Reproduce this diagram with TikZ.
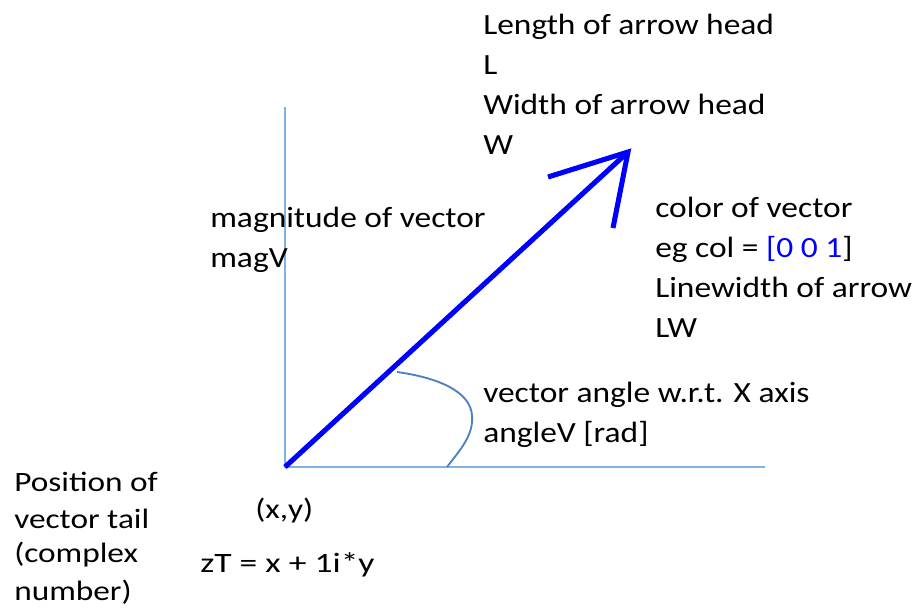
\documentclass[tikz,border=0pt]{standalone}
\usepackage{fontspec}
\usepackage{graphicx}
\setmainfont{Carlito}
\newcommand{\wideA}[1]{\scalebox{1.14}[1]{#1}}
\newcommand{\wideB}[1]{\scalebox{1.19}[1]{#1}}
\begin{document}
\begin{tikzpicture}[x=0.75pt,y=-0.75pt,
  txt/.style={anchor=base west,inner sep=0pt,font=\fontsize{22}{26}\selectfont},
  txts/.style={anchor=base west,inner sep=0pt,font=\fontsize{21}{25}\selectfont},
  axis/.style={draw={rgb,255:red,130;green,178;blue,225},line width=1.2pt},
  vec/.style={draw={rgb,255:red,0;green,0;blue,255},line width=3.8pt},
  ang/.style={draw={rgb,255:red,79;green,129;blue,189},line width=1.4pt}]
\useasboundingbox (0,0) rectangle (915,615);
% axes
\coordinate (O) at (285,467);
\coordinate (ytop) at (285,107);
\coordinate (xend) at (765,467);
\draw[axis] (ytop) -- (O) -- (xend);
% vector
\coordinate (tip) at (628,152);
\coordinate (h1) at (548,177);
\coordinate (h2) at (613,228);
\draw[vec] (O) -- (tip);
\draw[vec,miter limit=10] (h1) -- (tip) -- (h2);
% angle arc
\coordinate (a0) at (397,372);
\coordinate (a1) at (472,415);
\coordinate (a2) at (447,467);
\draw[ang] (a0) .. controls (440,378) and (470,392) .. (a1) .. controls (474,435) and (460,450) .. (a2);
% texts
\node[txt] (t1) at (483,34) {\wideA{Length of arrow head}};
\node[txt] (t2) at (483,74) {\wideA{L}};
\node[txt] (t3) at (483,114) {\wideA{Width of arrow head}};
\node[txt] (t4) at (483,154) {\wideA{W}};
\node[txt] (m1) at (210,227) {\wideA{magnitude of vector}};
\node[txt] (m2) at (210,267) {\wideA{magV}};
\node[txt] (c1) at (655,217) {\wideA{color of vector}};
\node[txt] (c2) at (655,257) {\wideA{eg col = \textcolor{blue}{[0 0 1}]}};
\node[txt] (c3) at (655,297) {\wideA{Linewidth of arrow}};
\node[txt] (c4) at (655,337) {\wideA{LW}};
\node[txt] (v1) at (483,402) {\wideA{vector angle w.r.t. X axis}};
\node[txt] (v2) at (483,442) {\wideA{angleV [rad]}};
\node[txts] (p1) at (14,491) {\wideB{Position of}};
\node[txts] (p2) at (14,528) {\wideB{vector tail}};
\node[txts] (p3) at (14,562) {\wideB{(complex}};
\node[txts] (p4) at (14,600) {\wideB{number)}};
\node[txts] (xy) at (255,518) {\wideB{(x,y)}};
\node[txts] (zt) at (200,572) {\scalebox{1.27}[1]{zT = x + 1i*y}};
\end{tikzpicture}
\end{document}
